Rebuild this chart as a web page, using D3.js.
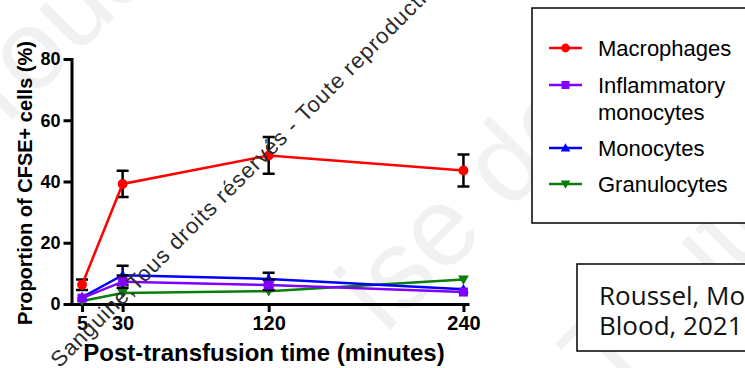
<!DOCTYPE html>
<html><head><meta charset="utf-8">
<script src="https://cdn.jsdelivr.net/npm/d3@7"></script>
<style>
html,body{margin:0;padding:0;background:#fff;}
svg{display:block;}
</style></head>
<body>
<svg id="chart" width="745" height="368"></svg>
<script>
// ---- data ----
const times = [5, 30, 120, 240];
const xTickValues = [5, 30, 120, 240];
const yTickValues = [0, 20, 40, 60, 80];
const seriesNames = ["Macrophages", "Inflammatory monocytes", "Monocytes", "Granulocytes"];
const macrophages = [6.3, 39.2, 48.5, 43.6];
const macrophagesErr = [1.7, 4.3, 6.0, 5.2];
const inflammatory = [1.9, 7.3, 6.2, 3.9];
const inflammatoryErr = [0, 2.0, 1.6, 0];
const monocytes = [2.2, 9.4, 8.2, 4.8];
const monocytesErr = [0, 3.1, 2.0, 0];
const granulocytes = [1.0, 3.6, 4.2, 8.0];
const granulocytesErr = [0, 0, 0, 0];
const citation = ["Roussel, Mo", "Blood, 2021"];
const watermark = "Société Française de Transfusion Sanguine, Tous droits réservés - Toute reproduction interdite";

const svg = d3.select("#chart");
const F = "'Liberation Sans', Arial, sans-serif";

// faint big watermark
const big = svg.append("g").attr("fill", "#f1f1f1").attr("font-family", F).attr("font-size", 112);
big.append("text").attr("transform", "translate(-8,140) rotate(-45)").text("Tous droits");
big.append("text").attr("transform", "translate(385,335) rotate(-45)").text("ise de");
big.append("text").attr("transform", "translate(608,400) rotate(-45)").text("Toute");

const x = d3.scaleLinear().domain([-1.5, 242.5]).range([71.5, 467.5]);
const y = d3.scaleLinear().domain([0, 80]).range([304, 59]);

// axes
const yAxis = svg.append("g").attr("transform", `translate(${x(-1.5)},0)`)
  .call(d3.axisLeft(y).tickValues(yTickValues).tickSize(8).tickSizeOuter(0).tickPadding(3));
const xAxis = svg.append("g").attr("transform", `translate(0,${y(0)})`)
  .call(d3.axisBottom(x).tickValues(xTickValues).tickSize(8).tickSizeOuter(0).tickPadding(4));
[yAxis, xAxis].forEach(a => {
  a.select(".domain").attr("stroke", "#000").attr("stroke-width", 3).attr("stroke-linecap", "square");
  a.selectAll(".tick line").attr("stroke", "#000").attr("stroke-width", 3);
  a.selectAll("text").attr("fill", "#000").attr("font-family", F).attr("font-weight", "bold");
});
yAxis.selectAll("text").attr("font-size", 18);
xAxis.selectAll("text").attr("font-size", 20);

// axis titles
svg.append("text").attr("transform", "translate(32,183) rotate(-90)")
  .attr("text-anchor", "middle").attr("font-family", F).attr("font-weight", "bold")
  .attr("font-size", 20).text("Proportion of CFSE+ cells (%)");
svg.append("text").attr("x", 264).attr("y", 361)
  .attr("text-anchor", "middle").attr("font-family", F).attr("font-weight", "bold")
  .attr("font-size", 24).text("Post-transfusion time (minutes)");

// series
const series = [
  {name: seriesNames[3], vals: granulocytes, err: granulocytesErr, color: "#0a7d0a", sym: "down"},
  {name: seriesNames[2], vals: monocytes, err: monocytesErr, color: "#0000ff", sym: "up"},
  {name: seriesNames[1], vals: inflammatory, err: inflammatoryErr, color: "#8000ff", sym: "square"},
  {name: seriesNames[0], vals: macrophages, err: macrophagesErr, color: "#ff0000", sym: "circle"}
];
function marker(g, sym, cx, cy, color, s) {
  if (sym === "circle") g.append("circle").attr("cx", cx).attr("cy", cy).attr("r", s*0.55).attr("fill", color);
  else if (sym === "square") g.append("rect").attr("x", cx - s/2).attr("y", cy - s/2).attr("width", s).attr("height", s).attr("fill", color);
  else if (sym === "up") g.append("path").attr("d", `M${cx},${cy - s*0.6}L${cx + s*0.6},${cy + s*0.45}L${cx - s*0.6},${cy + s*0.45}Z`).attr("fill", color);
  else g.append("path").attr("d", `M${cx},${cy + s*0.6}L${cx + s*0.6},${cy - s*0.45}L${cx - s*0.6},${cy - s*0.45}Z`).attr("fill", color);
}
const line = d3.line().x((d,i) => x(times[i])).y(d => y(d));
const plot = svg.append("g");
series.forEach(s => {
  const g = plot.append("g");
  s.vals.forEach((v, i) => {
    const cx = x(times[i]), e = s.err[i];
    if (e <= 0) return;
    g.append("path").attr("d", `M${cx},${y(v+e)}V${y(v-e)}M${cx-6},${y(v+e)}H${cx+6}M${cx-6},${y(v-e)}H${cx+6}`)
      .attr("stroke", "#000").attr("stroke-width", 2.5).attr("fill", "none");
  });
  g.append("path").datum(s.vals).attr("d", line).attr("fill", "none").attr("stroke", s.color).attr("stroke-width", 2.5);
  s.vals.forEach((v, i) => marker(g, s.sym, x(times[i]), y(v), s.color, 9));
});

// small diagonal watermark
const idx = watermark.indexOf("Tous");
const wmAttrs = t => t.attr("font-family", F).attr("font-size", 22).attr("letter-spacing", 1)
  .attr("fill", "#2a2a2a").attr("transform", "translate(136,292) rotate(-45)");
wmAttrs(svg.append("text")).attr("text-anchor", "end").text(watermark.slice(0, idx));
wmAttrs(svg.append("text")).text(watermark.slice(idx));

// legend
const lg = svg.append("g");
lg.append("rect").attr("x", 532).attr("y", 8).attr("width", 240).attr("height", 215)
  .attr("fill", "#fff").attr("stroke", "#000").attr("stroke-width", 1.5);
const legendRows = [
  {s: series[3], y: 48, lines: ["Macrophages"]},
  {s: series[2], y: 85, lines: ["Inflammatory", "monocytes"]},
  {s: series[1], y: 148, lines: ["Monocytes"]},
  {s: series[0], y: 184, lines: ["Granulocytes"]}
];
legendRows.forEach(r => {
  lg.append("line").attr("x1", 549).attr("x2", 582).attr("y1", r.y).attr("y2", r.y)
    .attr("stroke", r.s.color).attr("stroke-width", 2.5);
  marker(lg, r.s.sym, 565.5, r.y, r.s.color, 8);
  const t = lg.append("text").attr("font-family", F).attr("font-size", 22).attr("fill", "#000");
  r.lines.forEach((l, i) => t.append("tspan").attr("x", 598).attr("y", r.y + 8 + i * 27).text(l));
});

// citation box
const cb = svg.append("g");
cb.append("rect").attr("x", 577).attr("y", 264).attr("width", 200).attr("height", 87)
  .attr("fill", "#fff").attr("stroke", "#000").attr("stroke-width", 1.5);
citation.forEach((c, i) => cb.append("text").attr("x", 599).attr("y", 305 + i * 30)
  .attr("font-family", "'Open Sans', sans-serif").attr("font-size", 26).attr("fill", "#111").text(c));
</script>
</body></html>
